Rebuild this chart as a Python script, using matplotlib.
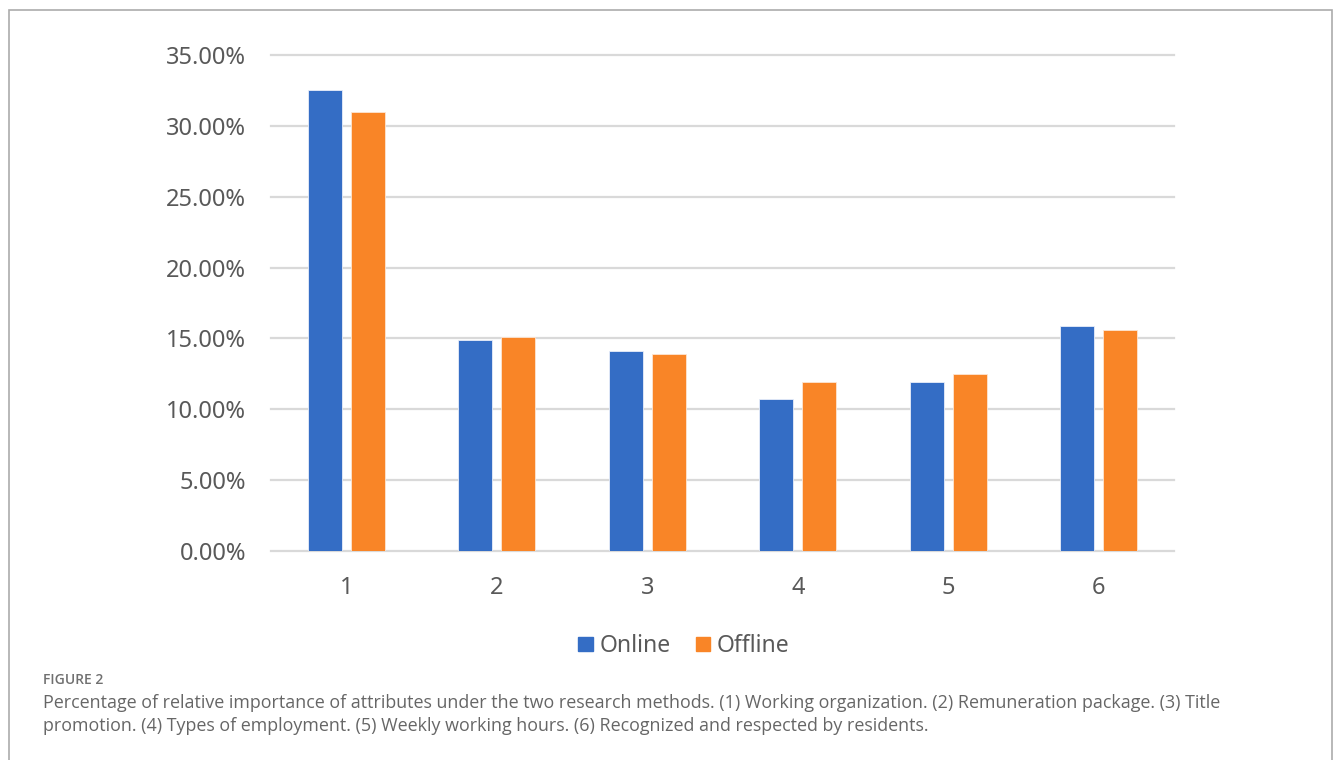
import matplotlib.pyplot as plt
import matplotlib.patches as mpatches
import numpy as np

# attribute numbers and relative importance (%) per research method
categories = ['1', '2', '3', '4', '5', '6']
online = [32.5, 14.9, 14.1, 10.7, 11.9, 15.9]
offline = [31.0, 15.1, 13.9, 11.9, 12.5, 15.6]
yticks = [0, 5, 10, 15, 20, 25, 30, 35]

caption_head = 'FIGURE 2'
caption_lines = [
    'Percentage of relative importance of attributes under the two research methods. '
    '(1) Working organization. (2) Remuneration package. (3) Title',
    'promotion. (4) Types of employment. (5) Weekly working hours. '
    '(6) Recognized and respected by residents.',
]

blue = '#346dc5'
orange = '#f98527'
text_grey = '#595959'

W, H = 1335, 760
fig = plt.figure(figsize=(W / 100, H / 100), dpi=100)
fig.patch.set_facecolor('white')

# outer frame of the figure panel
frame = mpatches.Rectangle((9 / W, -0.05), 1323 / W, 1.05 - 10 / H,
                           transform=fig.transFigure, fill=False,
                           edgecolor='#ababab', linewidth=1.2)
fig.patches.append(frame)

ax = fig.add_axes([271 / W, 1 - 551 / H, 903 / W, 496 / H])

x = np.arange(len(categories))
off, bw = 0.143, 0.226
ax.bar(x - off, online, bw, color=blue, edgecolor='#e8eefa', linewidth=0.6,
       label='Online', zorder=3)
ax.bar(x + off, offline, bw, color=orange, edgecolor='#fde6d3', linewidth=0.6,
       label='Offline', zorder=3)

ax.set_xlim(-0.5, len(categories) - 0.5)
ax.set_ylim(0, 35)
ax.set_yticks(yticks)
ax.set_yticklabels([f'{v:.2f}%' for v in yticks])
ax.set_xticks(x)
ax.set_xticklabels(categories)

ax.yaxis.grid(True, color='#d9d9d9', linewidth=1.6, zorder=0)
for gl in ax.get_ygridlines():
    gl.set_clip_on(False)
ax.set_axisbelow(True)
for s in ax.spines.values():
    s.set_visible(False)
ax.tick_params(axis='both', length=0, labelsize=17, labelcolor=text_grey)
ax.tick_params(axis='y', pad=18)
ax.tick_params(axis='x', pad=18)
for lab in ax.get_xticklabels() + ax.get_yticklabels():
    lab.set_family('Noto Sans')

handles = [mpatches.Patch(color=blue, label='Online'),
           mpatches.Patch(color=orange, label='Offline')]
fig.legend(handles=handles, loc='center', bbox_to_anchor=(684 / W, 1 - 646 / H),
           ncol=2, frameon=False, handlelength=0.62, handleheight=0.62,
           handletextpad=0.3, columnspacing=1.1,
           prop={'family': 'Noto Sans', 'size': 16.5}, labelcolor=text_grey)

# caption below the chart
fig.text(43 / W, 1 - 684 / H, caption_head, family='Open Sans', weight='semibold',
         fontsize=10, color='#707070', va='baseline')
for i, line in enumerate(caption_lines):
    fig.text(43 / W, 1 - (708 + 23 * i) / H, line, family='Open Sans',
             fontsize=12.85, color='#666666', va='baseline')

fig.savefig('out.png', dpi=100, facecolor='white')
